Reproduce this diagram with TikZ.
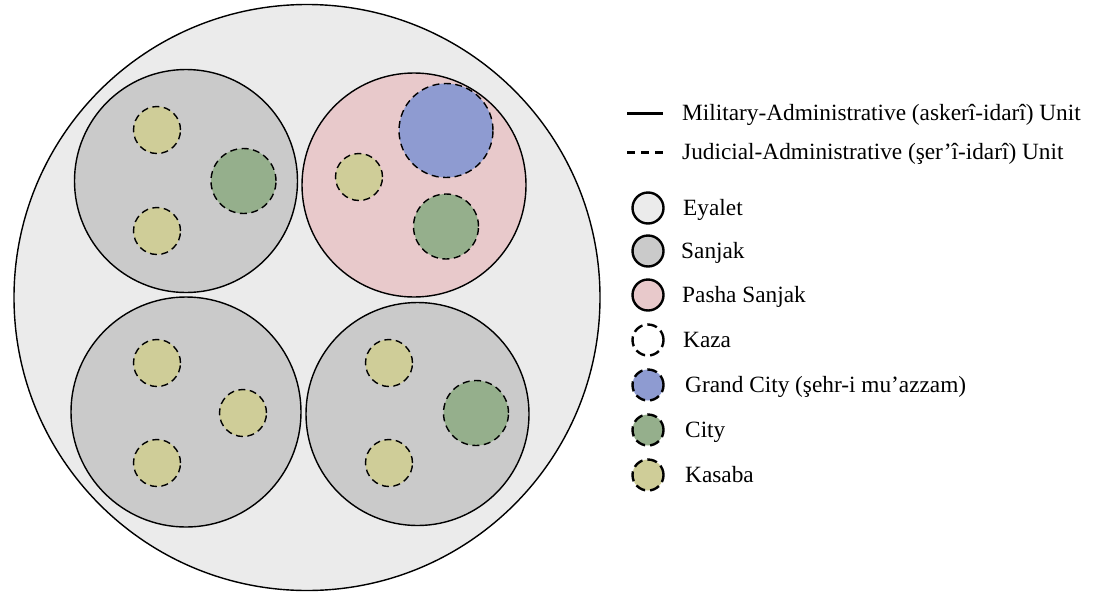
\documentclass[tikz,border=0pt]{standalone}
\usepackage{fontspec}
\setmainfont{Liberation Serif}
\definecolor{eyaletfill}{HTML}{EBEBEB}
\definecolor{sanjakfill}{HTML}{CACACA}
\definecolor{pashafill}{HTML}{E8C9CB}
\definecolor{grandfill}{HTML}{8E9BD1}
\definecolor{cityfill}{HTML}{95AF8C}
\definecolor{kasabafill}{HTML}{CFCD98}
\tikzset{
  unit/.style={circle, inner sep=0pt, minimum size=#1},
  milunit/.style={draw=black, line width=1.4pt},
  judunit/.style={draw=black, line width=1.4pt, dash pattern=on 7pt off 4.5pt},
  eyalet/.style={unit=#1, milunit, fill=eyaletfill},
  sanjak/.style={unit=#1, milunit, fill=sanjakfill},
  pasha/.style={unit=#1, milunit, fill=pashafill},
  grandcity/.style={unit=#1, judunit, fill=grandfill},
  city/.style={unit=#1, judunit, fill=cityfill},
  kasaba/.style={unit=#1, judunit, fill=kasabafill},
  keysym/.style={circle, inner sep=0pt, minimum size=31pt, draw=black, line width=2.4pt},
  keydash/.style={keysym, dash pattern=on 10pt off 5pt},
  keytext/.style={anchor=base west, inner sep=0pt, font=\fontsize{23.3}{28}\selectfont},
}
\begin{document}
\begin{tikzpicture}[x=1pt, y=-1pt]
\useasboundingbox (0,0) rectangle (1094,592);

% Eyalet
\node[eyalet=586pt] (ey) at (307,297.5) {};

% Sanjaks
\node[sanjak=223pt] (s1) at (186,181) {};
\node[pasha=224pt] (s2) at (414,185) {};
\node[sanjak=230pt] (s3) at (186,412) {};
\node[sanjak=223pt] (s4) at (417.5,414) {};

% Units of the first sanjak
\node[kasaba=47pt] (k11) at (157,130) {};
\node[kasaba=47pt] (k12) at (157,231) {};
\node[city=65pt] (c1) at (243.5,181) {};

% Units of the pasha sanjak
\node[grandcity=94pt] (g2) at (446,130.5) {};
\node[kasaba=47pt] (k21) at (359,177) {};
\node[city=65pt] (c2) at (446,226.5) {};

% Units of the third sanjak
\node[kasaba=47pt] (k31) at (157,363) {};
\node[kasaba=47pt] (k32) at (243,413) {};
\node[kasaba=47pt] (k33) at (157,463) {};

% Units of the fourth sanjak
\node[kasaba=47pt] (k41) at (389,363) {};
\node[kasaba=47pt] (k42) at (389,463) {};
\node[city=65pt] (c4) at (476,413) {};

% Key: line styles
\coordinate (la) at (627,113);
\coordinate (lb) at (663,113);
\draw[line width=3pt] (la) -- (lb);
\node[keytext] (t1) at (682,120) {Military-Administrative (askerî-idarî) Unit};

\coordinate (da) at (627,152);
\coordinate (db) at (663,152);
\draw[line width=3pt, dash pattern=on 8pt off 6pt] (da) -- (db);
\node[keytext] (t2) at (682,159) {Judicial-Administrative (şer’î-idarî) Unit};

% Key: unit types
\node[keysym, fill=eyaletfill] (ke) at (648,208) {};
\node[keytext] (te) at (683,215) {Eyalet};

\node[keysym, fill=sanjakfill] (ks) at (648,251) {};
\node[keytext] (ts) at (681,258) {Sanjak};

\node[keysym, fill=pashafill] (kp) at (648,295) {};
\node[keytext] (tp) at (682,302) {Pasha Sanjak};

\node[keydash, fill=white] (kk) at (648,340) {};
\node[keytext] (tk) at (683,347) {Kaza};

\node[keydash, fill=grandfill] (kg) at (648,385) {};
\node[keytext] (tg) at (685,392) {Grand City (şehr-i mu’azzam)};

\node[keydash, fill=cityfill] (kc) at (648,430) {};
\node[keytext] (tc) at (685,437) {City};

\node[keydash, fill=kasabafill] (kb) at (648,475) {};
\node[keytext] (tb) at (685,482) {Kasaba};
\end{tikzpicture}
\end{document}
